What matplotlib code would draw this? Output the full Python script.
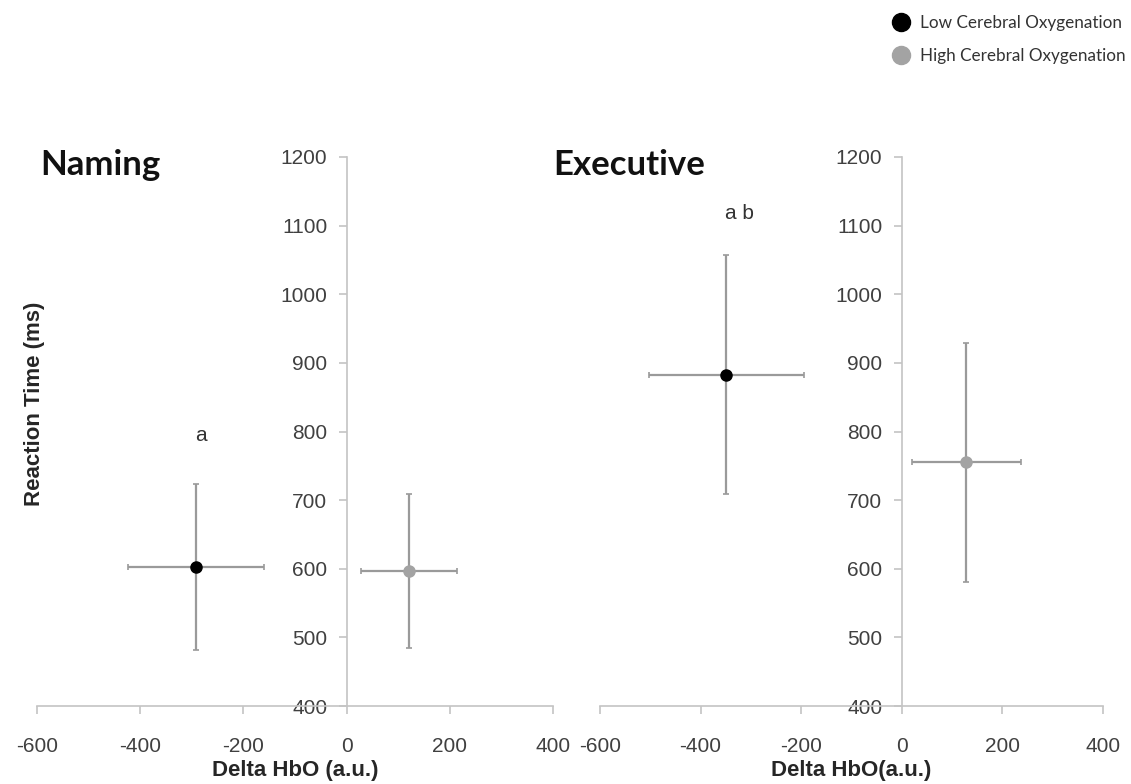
import numpy as np
from matplotlib import pyplot as plt
from matplotlib.lines import Line2D

plt.rcParams['axes.unicode_minus'] = False

# values (x = Delta HbO, y = reaction time)
groups = ['Low Cerebral Oxygenation', 'High Cerebral Oxygenation']
naming_x = [-292, 121]
naming_y = [603, 597]
naming_xerr = [131, 93]
naming_yerr = [121, 112]
exec_x = [-349, 128]
exec_y = [883, 755]
exec_xerr = [154, 108]
exec_yerr = [174, 174]

xticks = [-600, -400, -200, 0, 200, 400]
yticks = [400, 500, 600, 700, 800, 900, 1000, 1100, 1200]

marker_colors = ['black', '#a3a3a3']
bar_color = '#9a9a9a'
spine_color = '#c4c4c4'
tick_color = '#404040'

fig = plt.figure(figsize=(11.31, 7.84), dpi=100)
ax1 = fig.add_axes([37 / 1131, 78 / 784, 516 / 1131, 549 / 784])
ax2 = fig.add_axes([600 / 1131, 78 / 784, 503 / 1131, 549 / 784])


def draw_panel(ax, xs, ys, xerrs, yerrs, xlabel, note, note_xy):
    for i in range(len(xs)):
        ax.errorbar(xs[i], ys[i], xerr=xerrs[i], yerr=yerrs[i], fmt='none',
                    ecolor=bar_color, elinewidth=1.6, capsize=2.5, capthick=1.2,
                    zorder=2)
        ax.plot(xs[i], ys[i], 'o', color=marker_colors[i], markersize=8,
                zorder=3)
    ax.set_xlim(-600, 400)
    ax.set_ylim(400, 1200)
    ax.set_xticks(xticks)
    ax.set_yticks(yticks)
    for s in ['top', 'right']:
        ax.spines[s].set_visible(False)
    ax.spines['left'].set_position(('data', 0))
    for s in ['left', 'bottom']:
        ax.spines[s].set_color(spine_color)
        ax.spines[s].set_linewidth(1.2)
    ax.tick_params(axis='both', colors=spine_color, labelcolor=tick_color,
                   labelsize=15, length=6, width=1.2)
    ax.tick_params(axis='y', pad=8)
    ax.tick_params(axis='x', pad=16)
    for lab in ax.get_xticklabels() + ax.get_yticklabels():
        lab.set_family('Liberation Sans')
    ax.set_xlabel(xlabel, fontsize=16, fontweight='bold', family='Liberation Sans',
                  color='#262626', labelpad=3)
    ax.text(note_xy[0], note_xy[1], note, fontsize=15, family='Liberation Sans',
            color='#333333', ha='center', va='center')


draw_panel(ax1, naming_x, naming_y, naming_xerr, naming_yerr,
           'Delta HbO (a.u.)', 'a', (-283, 794))
draw_panel(ax2, exec_x, exec_y, exec_xerr, exec_yerr,
           'Delta HbO(a.u.)', 'a b', (-323, 1117))

fig.text(40 / 1131, 1 - 165 / 784, 'Naming', fontsize=25, fontweight='bold',
         family='Lato', color='#111111', ha='left', va='center')
fig.text(553 / 1131, 1 - 165 / 784, 'Executive', fontsize=25, fontweight='bold',
         family='Lato', color='#111111', ha='left', va='center')

ax1.set_ylabel('Reaction Time (ms)', fontsize=16, fontweight='bold',
               family='Liberation Sans', color='#262626')
ax1.yaxis.set_label_coords(0.015, 0.55)

handles = [Line2D([], [], marker='o', linestyle='none', color=c, markersize=13)
           for c in marker_colors]
fig.legend(handles, groups, loc='upper right', bbox_to_anchor=(1.008, 1.0),
           frameon=False, prop={'family': 'Lato', 'size': 12.3},
           labelcolor='#333333', handlelength=1.0, handletextpad=0.6,
           labelspacing=1.05, borderpad=0, borderaxespad=0.85)

fig.savefig('out.png', dpi=100)
